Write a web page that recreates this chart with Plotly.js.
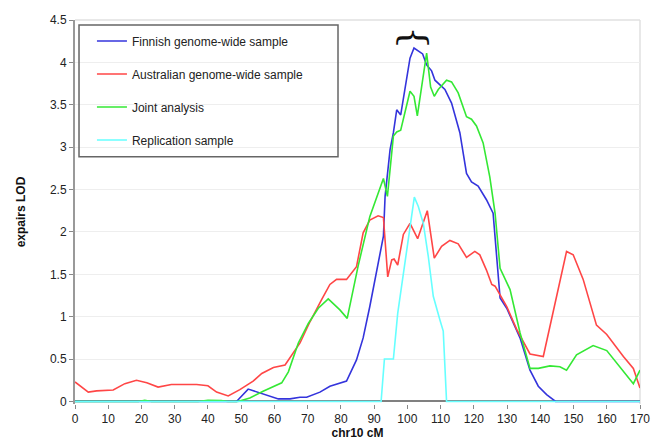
<!DOCTYPE html>
<html>
<head>
<meta charset="utf-8">
<script src="https://cdn.plot.ly/plotly-3.0.1.min.js"></script>
<style>
html,body{margin:0;padding:0;background:#fff;}
#chart{width:659px;height:440px;}
</style>
</head>
<body>
<div id="chart"></div>
<script>
// Finnish genome-wide sample
var finnishX = [0,48.6,52.1,56.6,61.2,64.7,67.7,69.7,73.7,76.7,81.7,84.7,86.7,88.7,91.2,92.8,93.3,94.8,95.8,96.8,98,100.8,102,103.3,104.6,105.8,107.3,108.3,109.8,111.3,113.3,115.8,117.8,119.3,121.3,123.8,125.8,126.9,127.9,129.9,133.9,136.9,139.4,141.9,144.6,170];
var finnishY = [0,0,0.146,0.09,0.03,0.03,0.05,0.05,0.11,0.18,0.24,0.49,0.75,1.12,1.63,1.95,2.42,2.97,3.17,3.44,3.38,4.05,4.17,4.13,4.10,3.97,3.90,3.79,3.73,3.68,3.52,3.17,2.69,2.59,2.54,2.38,2.22,1.67,1.22,1.10,0.75,0.37,0.18,0.08,0,0];
// Australian genome-wide sample
var australianX = [0,4,6.5,11.5,15,18.5,21.6,25,29,36.6,40,42.6,46.1,49.6,53.6,56.2,59.7,63.2,67.7,70.7,74.2,76.7,78.7,81.7,84.7,86.7,88.7,91.2,92.8,94.1,95.3,96,97.1,98.8,100.8,103.1,106,108.1,110.3,112.8,115.3,117.8,120.3,121.8,123.8,125.4,126.4,129.9,132.9,136.9,140.9,147.9,149.9,152.9,156.9,160,165,168,170];
var australianY = [0.23,0.11,0.125,0.135,0.21,0.25,0.22,0.17,0.2,0.2,0.185,0.11,0.065,0.14,0.24,0.33,0.4,0.43,0.69,0.94,1.2,1.38,1.44,1.44,1.59,1.99,2.14,2.19,2.17,1.47,1.67,1.68,1.61,1.97,2.10,1.92,2.25,1.69,1.83,1.90,1.86,1.70,1.77,1.73,1.55,1.38,1.36,1.12,0.85,0.56,0.53,1.77,1.73,1.44,0.9,0.79,0.53,0.39,0.16];
// Joint analysis
var jointX = [0,19,21,23,37,40,44,46,49,52.6,56.6,62.2,64.2,67.2,70.2,73.2,76.2,79.7,81.9,85.2,88.7,92.8,94,95.8,96.8,98,100.8,102,103,105.8,107,108.1,109.3,111.8,113.3,115.3,117.8,119.3,120.8,122.8,124.8,126.4,127.9,130.9,133.9,136.9,139.4,142.9,145.9,147.9,150.9,155.9,160,164,168,170];
var jointY = [0,0,0.015,0,0,0.015,0.01,0,0,0.04,0.12,0.22,0.35,0.69,0.92,1.1,1.21,1.08,0.98,1.6,2.18,2.63,2.42,3.13,3.18,3.2,3.66,3.6,3.37,4.11,3.71,3.6,3.68,3.79,3.77,3.64,3.36,3.33,3.25,3.05,2.65,2.22,1.57,1.32,0.81,0.39,0.39,0.42,0.41,0.37,0.55,0.66,0.6,0.41,0.21,0.37];
// Replication sample
var replicationX = [0,92.1,93.1,95.8,97.1,99.3,102.1,103.3,104.8,106.3,107.8,109.8,110.8,111.8,170];
var replicationY = [0,0,0.5,0.5,1.04,1.63,2.41,2.30,2.10,1.71,1.24,0.96,0.83,0,0];

var seriesNames = ["Finnish genome-wide sample","Australian genome-wide sample","Joint analysis","Replication sample"];
var xTicks = [0,10,20,30,40,50,60,70,80,90,100,110,120,130,140,150,160,170];
var yTicks = [0,0.5,1,1.5,2,2.5,3,3.5,4,4.5];
var braceX = 102.2, braceY = 4.29;

var colors = ["#3434dc","#ff4646","#34e834","#66ffff"];
var xs = [finnishX, australianX, jointX, replicationX];
var ys = [finnishY, australianY, jointY, replicationY];

var traces = xs.map(function(x,i){
  return {
    x: x, y: ys[i], type: "scatter", mode: "lines",
    name: seriesNames[i], legendgroup: "g"+i,
    line: {color: colors[i], width: 1.6},
    hoverinfo: "skip"
  };
});

var font = {family: "Liberation Sans, Arial, sans-serif", size: 12, color: "#222"};

var layout = {
  width: 659, height: 440,
  margin: {l: 75, r: 19, t: 20, b: 36},
  paper_bgcolor: "#fff", plot_bgcolor: "#fff",
  font: font,
  showlegend: true,
  legend: {
    x: 0.03, y: 0.983, xanchor: "left", yanchor: "top",
    bgcolor: "rgba(0,0,0,0)", borderwidth: 0,
    traceorder: "grouped", tracegroupgap: 14,
    font: font
  },
  xaxis: {
    range: [0, 170], tickvals: xTicks, ticktext: xTicks.map(String),
    showgrid: false, zeroline: false, showline: false,
    ticks: "outside", ticklen: 4, tickcolor: "#888", tickwidth: 1,
    tickfont: font,
    title: {text: "<b>chr10 cM</b>", font: {family: font.family, size: 12, color: "#111"}, standoff: 2}
  },
  yaxis: {
    range: [-0.03, 4.5], tickvals: yTicks, ticktext: yTicks.map(String),
    showgrid: true, gridcolor: "#eeeeee", gridwidth: 1,
    zeroline: true, zerolinecolor: "#808080", zerolinewidth: 2,
    showline: true, linecolor: "#999", linewidth: 2,
    ticks: "outside", ticklen: 4, tickcolor: "#888", tickwidth: 1,
    tickfont: font,
    title: {text: "<b>expairs LOD</b>", font: {family: font.family, size: 12, color: "#111"}, standoff: 22}
  },
  shapes: [
    {type: "line", xref: "paper", yref: "paper", x0: 0, x1: 1, y0: 1, y1: 1, line: {color: "#e0e0e0", width: 1.5}, layer: "below"},
    {type: "line", xref: "paper", yref: "paper", x0: 1, x1: 1, y0: 0, y1: 1, line: {color: "#e0e0e0", width: 1.5}, layer: "below"},
    {type: "rect", xref: "paper", yref: "paper", x0: 0.0071, x1: 0.4655, y0: 0.644, y1: 0.987, line: {color: "#666", width: 1.5}, fillcolor: "rgba(255,255,255,0)"}
  ],
  annotations: [
    {x: braceX, y: braceY, xref: "x", yref: "y", text: "{", textangle: 90, showarrow: false,
     font: {family: "DejaVu Serif, serif", size: 36, color: "#111"}}
  ]
};

Plotly.newPlot("chart", traces, layout, {displayModeBar: false, staticPlot: true});
</script>
</body>
</html>
